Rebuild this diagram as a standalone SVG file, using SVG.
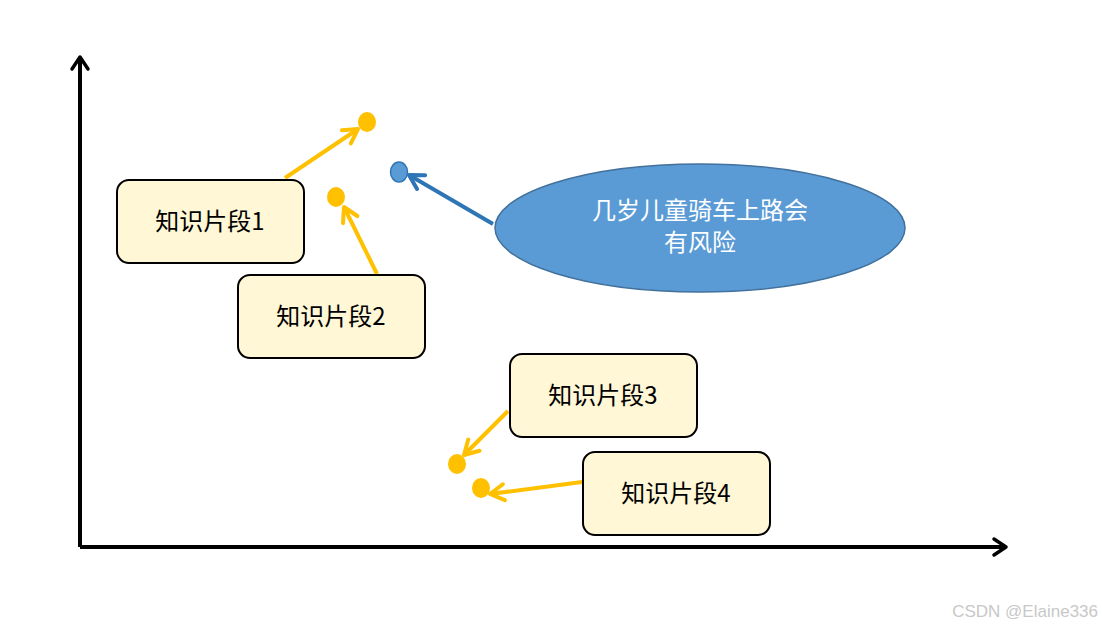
<svg xmlns="http://www.w3.org/2000/svg" width="1102" height="630" viewBox="0 0 1102 630">
<style>
.box{fill:#fff7d6;stroke:#000;stroke-width:2}
.t{font-family:"Noto Sans CJK SC","Liberation Sans",sans-serif;font-size:24px;fill:#000;text-anchor:middle}
.y{stroke:#ffc000;stroke-width:4;fill:none;marker-end:url(#ay)}
.dot{fill:#ffc000}
</style>
<defs>
<marker id="ay" markerWidth="10" markerHeight="10" refX="8" refY="5" orient="auto" markerUnits="userSpaceOnUse" viewBox="0 0 10 10" overflow="visible"><path d="M-6,-3 L8,5 L-6,13" fill="none" stroke="#ffc000" stroke-width="4" stroke-linecap="round" stroke-linejoin="round"/></marker>
<marker id="ab" markerWidth="10" markerHeight="10" refX="8" refY="5" orient="auto" markerUnits="userSpaceOnUse" viewBox="0 0 10 10" overflow="visible"><path d="M-6,-3 L8,5 L-6,13" fill="none" stroke="#2e75b6" stroke-width="4" stroke-linecap="round" stroke-linejoin="round"/></marker>
<marker id="ak" markerWidth="10" markerHeight="10" refX="8" refY="5" orient="auto" markerUnits="userSpaceOnUse" viewBox="0 0 10 10" overflow="visible"><path d="M-4,-3 L8,5 L-4,13" fill="none" stroke="#000" stroke-width="3.5" stroke-linecap="round" stroke-linejoin="round"/></marker>
</defs>
<rect width="1102" height="630" fill="#fff"/>
<g id="axes" stroke="#000" stroke-width="4" fill="none">
<path d="M80,547 L80,57" marker-end="url(#ak)"/>
<path d="M80,547 L1006,547" marker-end="url(#ak)"/>
</g>
<g id="connectors">
<path class="y" d="M285,178 L358,129"/>
<path class="y" d="M377,274 L344,207"/>
<path class="y" d="M508,411 L464,455"/>
<path class="y" d="M582,482 L490,494"/>
<path d="M493,224 L409,175" stroke="#2e75b6" stroke-width="4" fill="none" marker-end="url(#ab)"/>
</g>
<g id="points">
<ellipse class="dot" cx="367" cy="122" rx="9" ry="10"/>
<ellipse class="dot" cx="336" cy="197" rx="9" ry="10"/>
<ellipse class="dot" cx="457" cy="464" rx="9" ry="10"/>
<ellipse class="dot" cx="481" cy="488" rx="9" ry="10"/>
<ellipse cx="399" cy="172" rx="8.5" ry="10" fill="#5b9bd5" stroke="#2e75b6" stroke-width="1.5"/>
</g>
<g id="n1"><rect class="box" x="117" y="180" width="187" height="83" rx="12"/><text class="t" x="210" y="230">知识片段1</text></g>
<g id="n2"><rect class="box" x="238" y="275" width="187" height="83" rx="12"/><text class="t" x="331" y="325">知识片段2</text></g>
<g id="n3"><rect class="box" x="510" y="354" width="187" height="83" rx="12"/><text class="t" x="603" y="404">知识片段3</text></g>
<g id="n4"><rect class="box" x="583" y="452" width="187" height="83" rx="12"/><text class="t" x="676" y="502">知识片段4</text></g>
<g id="q"><ellipse cx="700" cy="228" rx="205" ry="64" fill="#5b9bd5" stroke="#41719c" stroke-width="1.5"/>
<text class="t" x="700" y="219" fill="#fff" style="fill:#fff">几岁儿童骑车上路会</text>
<text class="t" x="700" y="251" style="fill:#fff">有风险</text></g>
<text x="1098" y="617" font-family="Liberation Sans,sans-serif" font-size="17" fill="#c8c8c8" text-anchor="end">CSDN @Elaine336</text>
</svg>
